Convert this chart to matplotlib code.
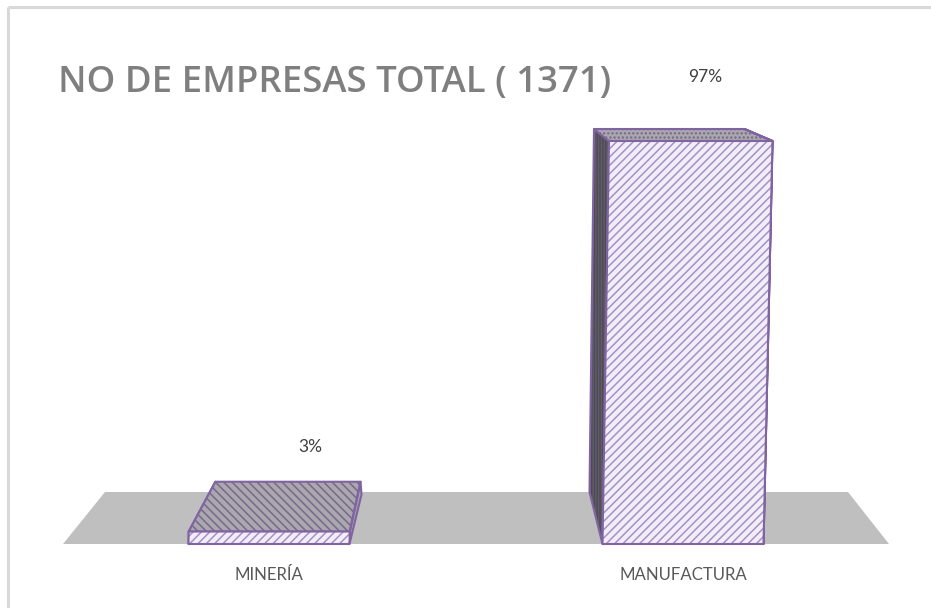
import matplotlib
matplotlib.use("Agg")
import matplotlib.pyplot as plt
from matplotlib.patches import Polygon

categories = ["MINERÍA", "MANUFACTURA"]
values = [3, 97]
value_labels = ["3%", "97%"]
title = "NO DE EMPRESAS TOTAL ( 1371)"

W, H = 931, 608
PX_PER_UNIT_X = 414.0      # pixels between category centres
PX_PER_PCT = 403.0 / 97.0  # pixels per percentage point
X0_PX, Y0_PX = 269.0, 544.0

PURPLE = "#8064a2"
GREY = "#7f7f7f"
plt.rcParams["hatch.linewidth"] = 1.1

fig = plt.figure(figsize=(W / 100, H / 100), dpi=100)
ax = fig.add_axes([0, 0, 1, 1])
ax.set_xlim(-X0_PX / PX_PER_UNIT_X, (W - X0_PX) / PX_PER_UNIT_X)
ax.set_ylim(-(H - Y0_PX) / PX_PER_PCT, Y0_PX / PX_PER_PCT)
ax.axis("off")


def dx(px):
    return px / PX_PER_UNIT_X


def dy(px):
    return px / PX_PER_PCT


def face(points, facecolor, hatch, hatch_color, z):
    ax.add_patch(Polygon(points, closed=True, facecolor=facecolor, edgecolor=hatch_color,
                         hatch=hatch, linewidth=0, zorder=z))
    ax.add_patch(Polygon(points, closed=True, facecolor="none", edgecolor=PURPLE,
                         linewidth=1.5, joinstyle="round", zorder=z + 0.5))


# frame: only top and left lines are visible
ax.plot([7.5 / W, 1], [1 - 6.5 / H, 1 - 6.5 / H], transform=ax.transAxes,
        color="#d9d9d9", lw=2.2, solid_capstyle="butt", zorder=0)
ax.plot([7.5 / W, 7.5 / W], [0, 1 - 6.5 / H], transform=ax.transAxes,
        color="#d9d9d9", lw=2.2, solid_capstyle="butt", zorder=0)

# floor
floor_left, floor_right = -dx(206), 1 + dx(206)
ax.add_patch(Polygon([(floor_left, 0), (floor_left + dx(42), dy(52)),
                      (floor_right - dx(41), dy(52)), (floor_right, 0)],
                     closed=True, facecolor="#bfbfbf", edgecolor="none", zorder=1))

half = dx(80.5)
back_h = dy(52)
for i, v in enumerate(values):
    h = v
    grow = h / 97.0
    bl = (i - half, 0)
    br = (i + half, 0)
    tl = (i - half + dx(6.5) * grow, h)
    tr = (i + half + dx(9) * grow, h)
    bbl = (i - half - dx(13) + dx(42) * (1 - grow), back_h)
    btl = (tl[0] - dx(15) + dx(43) * (1 - grow), h + dy(12) + dy(39) * (1 - grow))
    btr = (tr[0] - dx(28) + dx(40) * (1 - grow), btl[1])
    brr = (br[0] + dx(12), back_h * (1 - grow) * 0.75 + dy(12) * (1 - grow))
    # left side, top, right side, front
    face([bl, bbl, btl, tl], "#4c4a54", "||||||", "#5f5b68", 2)
    face([tr, btr, brr if v < 50 else (tr[0], h), br], "#a6a2ab", "", "#a6a2ab", 2.6)
    face([tl, btl, btr, tr], "#aaa7ae", "\\\\\\\\" if v < 50 else "....", "#76698c", 3)
    face([bl, tl, tr, br], "#f2eef8", "////", "#a690c8", 4)

# value labels
ax.text(1 + dx(22), v + dy(64), value_labels[1], ha="center", va="center", fontsize=12.5,
        family="Lato", color="#404040")
ax.text(dx(41), dy(97), value_labels[0], ha="center", va="center", fontsize=12.5,
        family="Lato", color="#404040")

# category labels
for i, c in enumerate(categories):
    ax.text(i, -dy(31), c, ha="center", va="center", fontsize=12.1, family="Lato",
            color="#595959")

# title
ax.text(-dx(211), dy(461), title, ha="left", va="center", fontsize=26.3,
        family="Open Sans", weight="semibold", color=GREY)

fig.savefig("out.png", dpi=100)
